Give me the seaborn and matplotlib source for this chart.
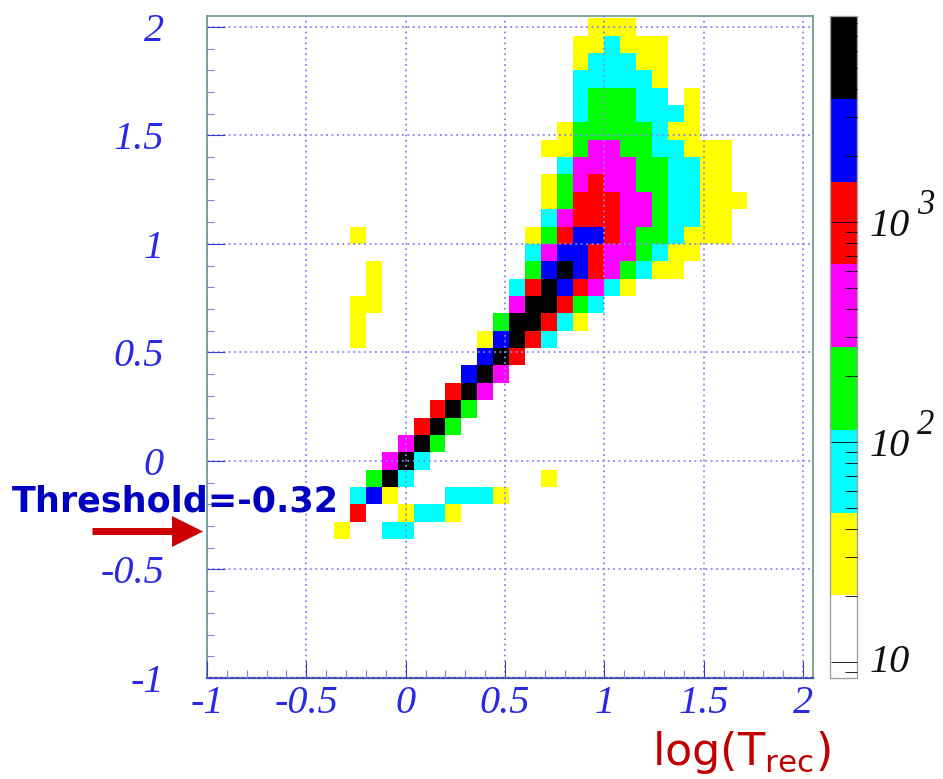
import numpy as np
import pandas as pd
import matplotlib
matplotlib.use('Agg')
import matplotlib.pyplot as plt
from matplotlib.colors import ListedColormap, LogNorm
from matplotlib.patches import Polygon
import seaborn as sns

# bin layout of the histogram, both axes start at -1
bin_width = 0.08
n_bins = 38

# cells: row number (from the bottom), first column, level letters
cell_rows = [37, 36, 35, 34, 33, 32, 31, 30, 29, 28, 27, 26, 25, 25, 24, 23, 23, 22, 22,
             21, 21, 20, 20, 19, 19, 18, 17, 16, 15, 14, 13, 12, 11, 11, 10, 10, 9, 9, 8, 8]
cell_starts = [24, 23, 23, 23, 23, 23, 22, 21, 22, 21, 21, 21, 20, 9, 20, 20, 10, 19, 10,
               19, 9, 18, 9, 17, 9, 17, 16, 15, 14, 13, 12, 11, 10, 21, 9, 15, 9, 12, 8, 11]
cell_levels = ['YYY', 'YYCYYY', 'YCCCYY', 'CCCCCY', 'CGGGCC.Y', 'CGGGCCCY', 'YGGGGGCYY',
               'YYGMMGGCCYYY', 'CMMMMGGCCYY', 'YGMRMMGGCCYY', 'YGRRRMMGCCYYY', 'CMRRRMMGCCYY',
               'YGRBBRMGGCYYY', 'Y', 'CMBBRMMGCYY', 'GBKBRMGCYY', 'Y', 'CRKBRMCY', 'Y',
               'MKKRGC', 'YY', 'GKKRCY', 'Y', 'YBKRC', 'Y', 'BKR', 'BKM', 'RKM', 'RKG', 'RKG',
               'MKG', 'MKC', 'GKC', 'Y', 'CBY', 'CCCY', 'R', 'YCCY', 'Y', 'CC']

# estimated counts for each colour band
level_counts = {'Y': 30, 'C': 75, 'G': 175, 'M': 420, 'R': 1000, 'B': 2300, 'K': 5500}
band_colors = ['#ffffff', '#ffff00', '#00ffff', '#00ff00', '#ff00ff', '#ff0000', '#0000ff', '#000000']
count_min = 8.45
count_max = 8610

tick_values = [-1, -0.5, 0, 0.5, 1, 1.5, 2]
tick_labels = ['-1', '-0.5', '0', '0.5', '1', '1.5', '2']
minor_values = [-0.9, -0.8, -0.7, -0.6, -0.4, -0.3, -0.2, -0.1, 0.1, 0.2, 0.3, 0.4,
                0.6, 0.7, 0.8, 0.9, 1.1, 1.2, 1.3, 1.4, 1.6, 1.7, 1.8, 1.9]
axis_max = 2.05
threshold = -0.32

W, H = 943, 779
BLUE = '#2a2ae6'
GRID = '#8484f6'


def box(left, top, right, bottom):
    # pixel box to figure fractions
    return [left / W, 1 - bottom / H, (right - left) / W, (bottom - top) / H]


def to_x(v):
    return (v + 1) / bin_width


def to_y(v):
    return (-1 + n_bins * bin_width - v) / bin_width


# build the matrix, first row of the frame is the top of the plot
grid = np.full((n_bins, n_bins), np.nan)
for row, start, letters in zip(cell_rows, cell_starts, cell_levels):
    for i, letter in enumerate(letters):
        if letter != '.':
            grid[n_bins - 1 - row, start + i] = level_counts[letter]
frame = pd.DataFrame(grid)

sns.set_style('white')
plt.rcParams['mathtext.default'] = 'regular'
fig = plt.figure(figsize=(W / 100, H / 100), dpi=100)
ax = fig.add_axes(box(207, 16, 813, 678))
cax = fig.add_axes(box(830, 16, 857, 678))

sns.heatmap(frame, ax=ax, cbar_ax=cax, cmap=ListedColormap(band_colors),
            norm=LogNorm(vmin=count_min, vmax=count_max), square=False, linewidths=0)

# axes range a little past the last bin
ax.set_xlim(0, to_x(axis_max))
ax.set_ylim(to_y(-1), to_y(axis_max))

ax.set_xticks([to_x(v) for v in tick_values])
ax.set_xticklabels(tick_labels, rotation=0)
ax.set_yticks([to_y(v) for v in tick_values])
ax.set_yticklabels(tick_labels, rotation=0, va='center_baseline')
ax.set_xticks([to_x(v) for v in minor_values], minor=True)
ax.set_yticks([to_y(v) for v in minor_values], minor=True)

label_font = {'family': 'Liberation Serif', 'style': 'italic', 'size': 29, 'color': BLUE}
for label in ax.get_xticklabels() + ax.get_yticklabels():
    label.set(**label_font)
ax.tick_params(axis='x', which='major', direction='in', length=12, width=0.8, color='#3a3ad0', pad=5, bottom=True)
ax.tick_params(axis='y', which='major', direction='in', length=13, width=0.8, color='#3a3ad0', pad=31, left=True)
ax.tick_params(axis='x', which='minor', direction='in', length=6, width=0.8, color='#8080e0', bottom=True)
ax.tick_params(axis='y', which='minor', direction='in', length=5, width=0.8, color='#8080e0', left=True)

# dotted grid sits on top of the cells
ax.set_axisbelow(False)
ax.grid(True, which='major', color=GRID, linestyle=(0, (1, 2)), linewidth=1.3)

for name, spine in ax.spines.items():
    spine.set_visible(True)
    spine.set_color('#6f9f86')
    spine.set_linewidth(1.3)
ax.spines['bottom'].set_color('#3f4fa0')
ax.spines['bottom'].set_linewidth(1.6)

# colour scale
cbar = ax.collections[0].colorbar
cbar.outline.set_edgecolor('#a0a0a0')
cbar.outline.set_linewidth(1.0)
cbar.ax.set_axisbelow(False)
cbar.ax.set_yticks([10, 100, 1000], labels=['', '', ''])
cbar.ax.tick_params(which='major', direction='in', length=19, width=0.6, color='#000000', right=True)
cbar.ax.tick_params(which='minor', direction='in', length=9, width=0.6, color='#000000', right=True, labelright=False)

# decade labels of the scale
for y_pos, exponent, y_exp in [(226, '3', 206), (446, '2', 426), (662, '', 0)]:
    fig.text(870 / W, 1 - y_pos / H, '10', family='Liberation Serif', style='italic', size=29,
             color='#111111', va='center', ha='left')
    if exponent:
        fig.text(917 / W, 1 - y_exp / H, exponent, family='Liberation Serif', style='italic', size=25,
                 color='#111111', va='center', ha='left')

# threshold note and arrow
fig.text(12 / W, 1 - 512 / H, 'Threshold=-0.32', family='DejaVu Sans', weight='bold', size=25.2,
         color='#0000c0', va='baseline', ha='left')
arrow_y = to_y(threshold - 0.005)
ax.plot([to_x(-1.58), to_x(-1.17)], [arrow_y, arrow_y], color='#cc0000', lw=5, clip_on=False,
        solid_capstyle='butt')
ax.add_patch(Polygon([(to_x(-1.176), arrow_y - 0.89), (to_x(-1.176), arrow_y + 0.89), (to_x(-1.02), arrow_y)],
                     closed=True, facecolor='#cc0000', edgecolor='none', clip_on=False, zorder=5))

# x axis title
fig.text(652 / W, 1 - 765 / H, 'log(T$_{rec}$)', family='DejaVu Sans', size=32, color='#c00000',
         va='baseline', ha='left')

fig.savefig('out.png', dpi=100)
